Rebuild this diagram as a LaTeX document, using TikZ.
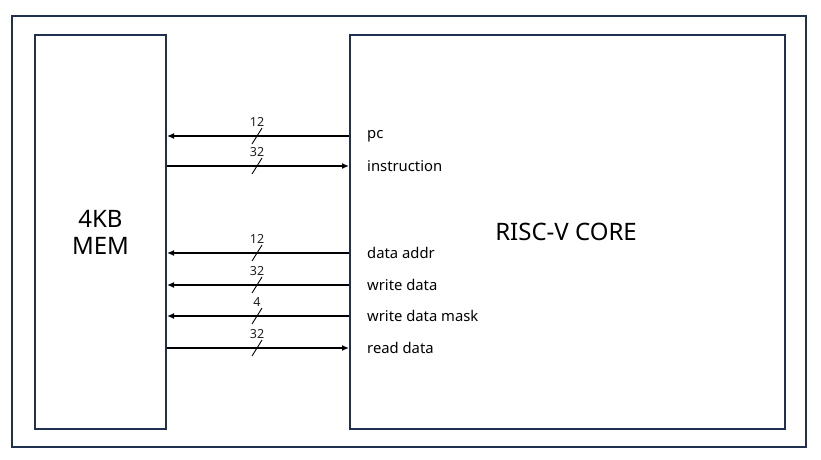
\documentclass[tikz,border=0pt]{standalone}
\usepackage{fontspec}
\setmainfont{Noto Sans}
\usetikzlibrary{arrows.meta,calc}
\definecolor{navy}{HTML}{1F3050}
\definecolor{numc}{HTML}{202020}
\begin{document}
\begin{tikzpicture}[x=1pt,y=-1pt,
  boxst/.style={draw=navy,line width=2pt},
  sig/.style={line width=1.8pt,-{Latex[length=7pt,width=6pt]}},
  bus/.style={line width=0.9pt},
  lbl/.style={anchor=west,font=\fontsize{14.8}{16}\selectfont,inner sep=0pt},
  num/.style={font=\fontsize{12.5}{14}\selectfont,text=numc,inner sep=0pt}]
\useasboundingbox (0,0) rectangle (821,459);
\draw[boxst] (12,16) rectangle (806,447);
\node[boxst,minimum width=131pt,minimum height=394pt,anchor=north west,
  align=center,font=\fontsize{24}{27}\selectfont] (mem) at (34,34) {4KB\\MEM};
\node[boxst,minimum width=435pt,minimum height=394pt,anchor=north west] (core) at (349,34) {};
\node[font=\fontsize{24}{27}\selectfont] (coretxt) at (566,232) {RISC-V CORE};
\foreach \y/\t/\n/\nm in {136/pc/12/a,166/instruction/32/b,253/data addr/12/c,285/write data/32/d,316/write data mask/4/e,348/read data/32/f}{
  \coordinate (L\nm) at (mem.east |- 0,\y);
  \coordinate (R\nm) at (core.west |- 0,\y);
  \node[lbl] (t\nm) at (367,\y) {\t};
  \coordinate (s\nm) at (257,\y);
  \draw[bus] ($(s\nm)+(-5,8)$) -- ($(s\nm)+(5,-8)$);
  \node[num] (n\nm) at (257,\y-14) {\n};
}
\draw[sig] (Ra) -- (La);
\draw[sig] (Lb) -- (Rb);
\draw[sig] (Rc) -- (Lc);
\draw[sig] (Rd) -- (Ld);
\draw[sig] (Re) -- (Le);
\draw[sig] (Lf) -- (Rf);
\end{tikzpicture}
\end{document}
